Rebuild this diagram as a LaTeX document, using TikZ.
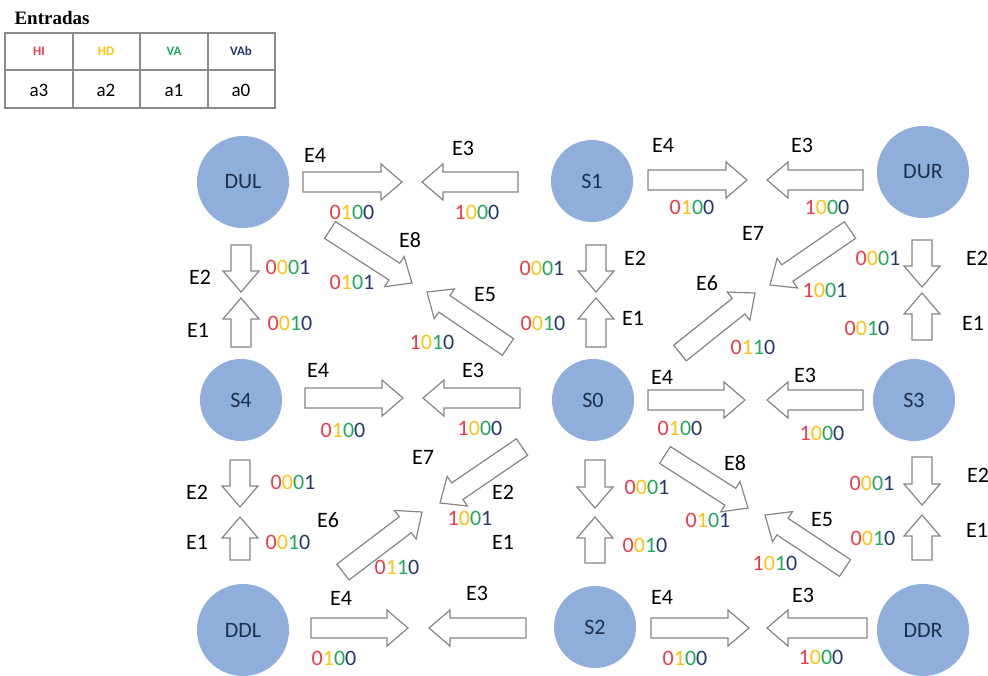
\documentclass[tikz,border=0pt]{standalone}
\usepackage{fontspec}
\setmainfont{Carlito}
\newfontfamily\serifbold{Liberation Serif}
\usetikzlibrary{calc}
\definecolor{circblue}{HTML}{8FAEDB}
\definecolor{labnavy}{HTML}{1F2F4F}
\definecolor{bitred}{HTML}{EE3A4C}
\definecolor{bityel}{HTML}{FFC20E}
\definecolor{bitgrn}{HTML}{1DAA5A}
\definecolor{bitblu}{HTML}{25386A}
\definecolor{arrgray}{HTML}{858585}
\definecolor{tabgray}{HTML}{8A8A8A}
% four coloured bits: a3 a2 a1 a0
\newcommand\bitstr[4]{\textcolor{bitred}{#1}\textcolor{bityel}{#2}\textcolor{bitgrn}{#3}\textcolor{bitblu}{#4}}
% hollow block arrow from tail to tip
\newcommand\blockarrow[2]{%
  \coordinate (bt) at (#1);
  \coordinate (bh) at (#2);
  \coordinate (hb) at ($(bh)!10.5pt!(bt)$);
  \draw[arrowline] ($(bt)!5pt!90:(bh)$) -- ($(hb)!5pt!90:(bh)$) -- ($(hb)!9pt!90:(bh)$) -- (bh)
    -- ($(hb)!9pt!-90:(bh)$) -- ($(hb)!5pt!-90:(bh)$) -- ($(bt)!5pt!-90:(bh)$) -- cycle;
}
\tikzset{
  arrowline/.style={draw=arrgray, fill=white, line width=0.6pt, line join=miter},
  state/.style={circle, fill=circblue, text=labnavy, minimum size=41pt, inner sep=0pt},
  dstate/.style={state, minimum size=46pt},
  tabline/.style={draw=tabgray, line width=0.8pt}
}
\begin{document}
\begin{tikzpicture}[x=0.5pt, y=-0.5pt, every node/.style={inner sep=0pt, font=\fontsize{11}{13}\selectfont}]
\useasboundingbox (0,0) rectangle (988,675);
% input table
\node (title) at (52,18) {\serifbold\bfseries\fontsize{9.5}{11}\selectfont Entradas};
\draw[tabline] (5,33) rectangle (275,108);
\draw[tabline] (5,70) -- (275,70);
\draw[tabline] (73,33) -- (73,108);
\draw[tabline] (140,33) -- (140,108);
\draw[tabline] (208,33) -- (208,108);
\node[text=bitred, font=\fontsize{6.5}{8}\selectfont\bfseries] (hi) at (39,51) {HI};
\node[text=bityel, font=\fontsize{6.5}{8}\selectfont\bfseries] (hd) at (106,51) {HD};
\node[text=bitgrn, font=\fontsize{6.5}{8}\selectfont\bfseries] (va) at (174,51) {VA};
\node[text=bitblu, font=\fontsize{6.5}{8}\selectfont\bfseries] (vab) at (241,51) {VAb};
\node[font=\fontsize{9.5}{11}\selectfont] (a3) at (39,90) {a3};
\node[font=\fontsize{9.5}{11}\selectfont] (a2) at (106,90) {a2};
\node[font=\fontsize{9.5}{11}\selectfont] (a1) at (174,90) {a1};
\node[font=\fontsize{9.5}{11}\selectfont] (a0) at (241,90) {a0};
% states
\node[dstate] (DUL) at (243,182) {DUL};
\node[state] (S1) at (592,181) {S1};
\node[dstate] (DUR) at (923,172) {DUR};
\node[state] (S4) at (241,400) {S4};
\node[state] (S0) at (593,400) {S0};
\node[state] (S3) at (914,400) {S3};
\node[dstate] (DDL) at (243,630) {DDL};
\node[state] (S2) at (595,627) {S2};
\node[dstate] (DDR) at (923,630) {DDR};
% horizontal arrows
\blockarrow{303,182}{402,182}
\blockarrow{518,182}{422,182}
\blockarrow{648,180}{747,180}
\blockarrow{863,180}{767,180}
\blockarrow{305,398}{403,398}
\blockarrow{520,398}{423,398}
\blockarrow{648,400}{745,400}
\blockarrow{863,400}{767,400}
\blockarrow{311,628}{408,628}
\blockarrow{526,628}{429,628}
\blockarrow{651,628}{749,628}
\blockarrow{867,628}{767,628}
% vertical arrows
\blockarrow{241,245}{241,292}
\blockarrow{241,347}{241,298}
\blockarrow{596,245}{596,292}
\blockarrow{596,347}{596,298}
\blockarrow{922,240}{922,287}
\blockarrow{922,340}{922,293}
\blockarrow{240,460}{240,507}
\blockarrow{240,560}{240,517}
\blockarrow{595,460}{595,508}
\blockarrow{595,563}{595,517}
\blockarrow{922,457}{922,505}
\blockarrow{922,560}{922,515}
% diagonal arrows
\blockarrow{330,230}{412,283}
\blockarrow{508,347}{427,292}
\blockarrow{850,230}{770,285}
\blockarrow{680,353}{755,293}
\blockarrow{522,447}{440,503}
\blockarrow{343,572}{422,512}
\blockarrow{665,455}{748,508}
\blockarrow{845,568}{765,515}
% row 1 labels
\node (e4a) at (315,155) {E4};
\node (e3a) at (463,148) {E3};
\node (c4a) at (352,212) {\bitstr0100};
\node (c3a) at (477,212) {\bitstr1000};
\node (e4b) at (663,145) {E4};
\node (e3b) at (802,145) {E3};
\node (c4b) at (692,207) {\bitstr0100};
\node (c3b) at (827,207) {\bitstr1000};
% upper diagonal labels
\node (e8a) at (410,240) {E8};
\node (c8a) at (352,282) {\bitstr0101};
\node (e5a) at (485,295) {E5};
\node (c5a) at (432,342) {\bitstr1010};
\node (e7a) at (753,233) {E7};
\node (c7a) at (825,290) {\bitstr1001};
\node (e6a) at (707,283) {E6};
\node (c6a) at (753,347) {\bitstr0110};
% upper column labels
\node (c2a) at (288,267) {\bitstr0001};
\node (e2a) at (200,277) {E2};
\node (c1a) at (290,323) {\bitstr0010};
\node (e1a) at (198,330) {E1};
\node (c2b) at (542,268) {\bitstr0001};
\node (e2b) at (635,258) {E2};
\node (c1b) at (543,323) {\bitstr0010};
\node (e1b) at (633,318) {E1};
\node (c2c) at (878,258) {\bitstr0001};
\node (e2c) at (977,258) {E2};
\node (c1c) at (867,328) {\bitstr0010};
\node (e1c) at (973,323) {E1};
% row 2 labels
\node (e4c) at (318,370) {E4};
\node (e3c) at (473,370) {E3};
\node (c4c) at (343,430) {\bitstr0100};
\node (c3c) at (480,428) {\bitstr1000};
\node (e4d) at (662,377) {E4};
\node (e3d) at (805,375) {E3};
\node (c4d) at (680,428) {\bitstr0100};
\node (c3d) at (822,433) {\bitstr1000};
% lower diagonal labels
\node (e7b) at (423,457) {E7};
\node (e2d) at (503,492) {E2};
\node (c7b) at (470,518) {\bitstr1001};
\node (e1d) at (503,542) {E1};
\node (e6b) at (328,520) {E6};
\node (c6b) at (397,567) {\bitstr0110};
\node (e8b) at (735,463) {E8};
\node (c8b) at (708,520) {\bitstr0101};
\node (e5b) at (822,520) {E5};
\node (c5b) at (775,563) {\bitstr1010};
% lower column labels
\node (e2e) at (197,492) {E2};
\node (c2d) at (293,482) {\bitstr0001};
\node (e1e) at (197,542) {E1};
\node (c1d) at (288,542) {\bitstr0010};
\node (c2e) at (647,487) {\bitstr0001};
\node (c1e) at (645,545) {\bitstr0010};
\node (c2f) at (872,483) {\bitstr0001};
\node (e2f) at (978,475) {E2};
\node (c1f) at (873,538) {\bitstr0010};
\node (e1f) at (977,530) {E1};
% row 3 labels
\node (e4e) at (341,598) {E4};
\node (e3e) at (477,593) {E3};
\node (e4f) at (662,597) {E4};
\node (e3f) at (803,595) {E3};
\node (c4e) at (334,658) {\bitstr0100};
\node (c4f) at (685,658) {\bitstr0100};
\node (c3f) at (821,657) {\bitstr1000};
\end{tikzpicture}
\end{document}
